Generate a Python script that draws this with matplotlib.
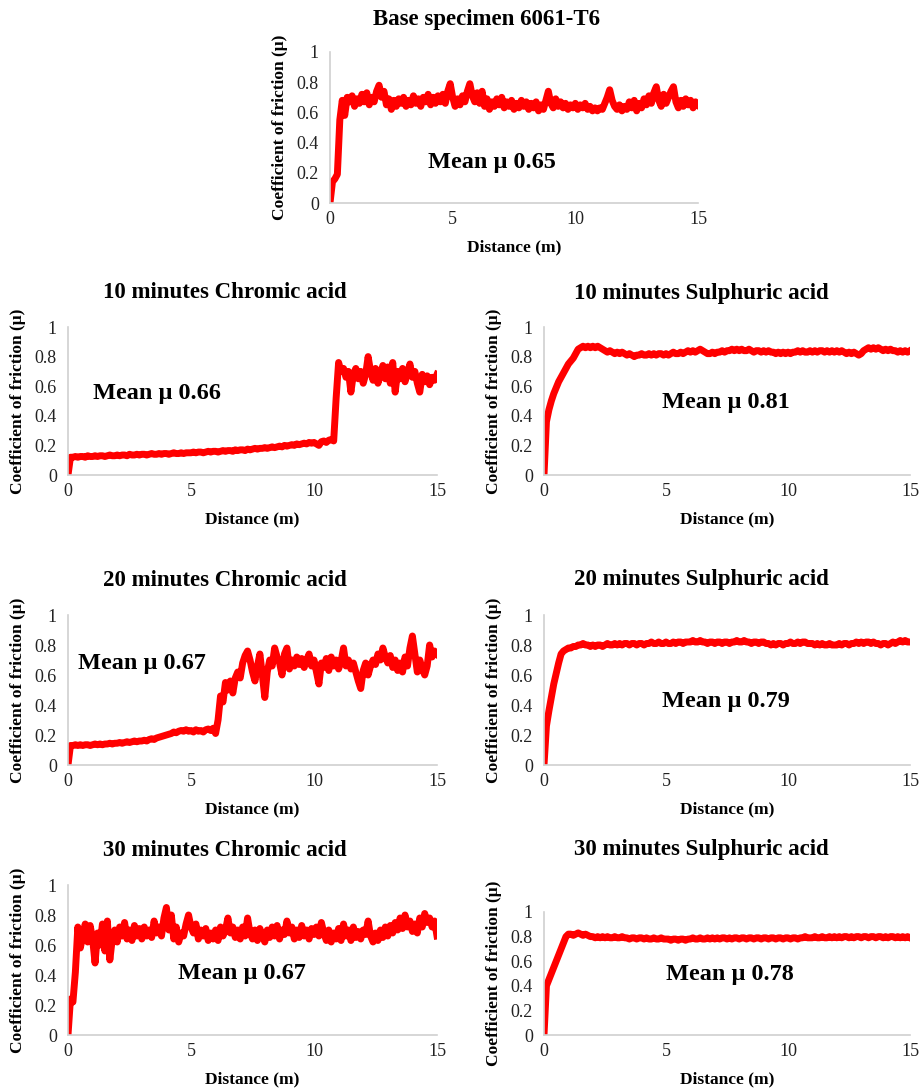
import numpy as np
import matplotlib
matplotlib.use("Agg")
import matplotlib.pyplot as plt

plt.rcParams['font.family'] = ['Liberation Serif', 'DejaVu Serif']

# sampled distance grid (m), every 0.1 m
distance = np.round(np.arange(0, 15.01, 0.1), 1)

base_6061 = [
    0.00, 0.14, 0.16, 0.19, 0.55, 0.68, 0.58, 0.70, 0.67, 0.71,
    0.64, 0.69, 0.66, 0.72, 0.67, 0.73, 0.65, 0.70, 0.67, 0.74,
    0.78, 0.70, 0.74, 0.65, 0.69, 0.62, 0.68, 0.64, 0.69, 0.66,
    0.70, 0.64, 0.68, 0.65, 0.71, 0.66, 0.69, 0.64, 0.70, 0.67,
    0.72, 0.65, 0.70, 0.66, 0.71, 0.67, 0.72, 0.66, 0.74, 0.79,
    0.70, 0.64, 0.69, 0.65, 0.71, 0.67, 0.74, 0.79, 0.71, 0.67,
    0.73, 0.66, 0.74, 0.64, 0.69, 0.62, 0.67, 0.64, 0.69, 0.65,
    0.70, 0.63, 0.67, 0.64, 0.68, 0.62, 0.66, 0.63, 0.68, 0.64,
    0.67, 0.62, 0.66, 0.63, 0.67, 0.61, 0.65, 0.62, 0.68, 0.74,
    0.66, 0.63, 0.69, 0.64, 0.67, 0.63, 0.66, 0.62, 0.65, 0.63,
    0.66, 0.62, 0.65, 0.63, 0.66, 0.62, 0.64, 0.61, 0.63, 0.61,
    0.63, 0.62, 0.66, 0.70, 0.75, 0.68, 0.64, 0.62, 0.65, 0.61,
    0.64, 0.62, 0.67, 0.63, 0.68, 0.61, 0.66, 0.63, 0.69, 0.65,
    0.71, 0.66, 0.73, 0.77, 0.68, 0.64, 0.72, 0.66, 0.70, 0.74,
    0.77, 0.67, 0.63, 0.68, 0.64, 0.69, 0.65, 0.68, 0.63, 0.67,
    0.65,
]

chromic_10 = [
    0.00, 0.12, 0.12, 0.125, 0.12, 0.125, 0.125, 0.12, 0.13, 0.125,
    0.125, 0.13, 0.125, 0.13, 0.13, 0.125, 0.13, 0.135, 0.13, 0.13,
    0.135, 0.13, 0.135, 0.135, 0.13, 0.14, 0.135, 0.135, 0.14, 0.135,
    0.14, 0.14, 0.135, 0.14, 0.145, 0.14, 0.14, 0.145, 0.14, 0.145,
    0.145, 0.14, 0.145, 0.15, 0.145, 0.145, 0.15, 0.145, 0.15, 0.15,
    0.15, 0.155, 0.15, 0.155, 0.155, 0.15, 0.155, 0.16, 0.155, 0.16,
    0.16, 0.155, 0.16, 0.165, 0.16, 0.165, 0.165, 0.16, 0.17, 0.165,
    0.17, 0.17, 0.165, 0.175, 0.17, 0.175, 0.18, 0.175, 0.18, 0.18,
    0.185, 0.18, 0.185, 0.19, 0.185, 0.19, 0.195, 0.19, 0.20, 0.195,
    0.20, 0.205, 0.20, 0.21, 0.205, 0.21, 0.215, 0.21, 0.22, 0.215,
    0.22, 0.21, 0.20, 0.225, 0.23, 0.22, 0.235, 0.24, 0.23, 0.52,
    0.76, 0.70, 0.72, 0.66, 0.70, 0.56, 0.68, 0.72, 0.65, 0.70,
    0.62, 0.68, 0.80, 0.70, 0.64, 0.72, 0.62, 0.68, 0.74, 0.65,
    0.73, 0.62, 0.76, 0.56, 0.70, 0.65, 0.72, 0.63, 0.69, 0.75,
    0.66, 0.70, 0.62, 0.56, 0.68, 0.63, 0.67, 0.61, 0.66, 0.64,
    0.68,
]

sulphuric_10 = [
    0.00, 0.36, 0.44, 0.50, 0.55, 0.59, 0.63, 0.66, 0.69, 0.72,
    0.75, 0.77, 0.79, 0.82, 0.85, 0.86, 0.87, 0.86, 0.87, 0.86,
    0.87, 0.86, 0.87, 0.86, 0.85, 0.84, 0.83, 0.84, 0.83, 0.82,
    0.83, 0.82, 0.83, 0.82, 0.81, 0.82, 0.81, 0.80, 0.81, 0.81,
    0.82, 0.81, 0.81, 0.82, 0.81, 0.82, 0.81, 0.82, 0.82, 0.81,
    0.82, 0.81, 0.82, 0.83, 0.82, 0.82, 0.83, 0.82, 0.83, 0.84,
    0.83, 0.84, 0.83, 0.84, 0.85, 0.84, 0.83, 0.82, 0.82, 0.83,
    0.82, 0.83, 0.83, 0.84, 0.83, 0.84, 0.84, 0.85, 0.84, 0.85,
    0.84, 0.85, 0.84, 0.84, 0.85, 0.84, 0.83, 0.84, 0.84, 0.83,
    0.84, 0.83, 0.84, 0.83, 0.83, 0.82, 0.83, 0.82, 0.83, 0.82,
    0.83, 0.82, 0.83, 0.83, 0.84, 0.83, 0.84, 0.83, 0.83, 0.84,
    0.83, 0.84, 0.83, 0.84, 0.84, 0.83, 0.84, 0.83, 0.84, 0.83,
    0.84, 0.83, 0.84, 0.83, 0.82, 0.83, 0.82, 0.83, 0.82, 0.81,
    0.82, 0.84, 0.85, 0.86, 0.85, 0.86, 0.85, 0.86, 0.85, 0.84,
    0.85, 0.84, 0.85, 0.84, 0.84, 0.83, 0.84, 0.83, 0.84, 0.83,
    0.84,
]

chromic_20 = [
    0.00, 0.13, 0.13, 0.135, 0.13, 0.135, 0.13, 0.135, 0.135, 0.13,
    0.135, 0.14, 0.135, 0.14, 0.135, 0.14, 0.14, 0.145, 0.14, 0.145,
    0.145, 0.15, 0.145, 0.15, 0.155, 0.15, 0.155, 0.16, 0.155, 0.16,
    0.16, 0.165, 0.16, 0.17, 0.175, 0.17, 0.18, 0.185, 0.19, 0.195,
    0.20, 0.205, 0.21, 0.22, 0.215, 0.225, 0.23, 0.225, 0.235, 0.225,
    0.23, 0.22, 0.235, 0.225, 0.23, 0.22, 0.235, 0.24, 0.23, 0.245,
    0.21, 0.30, 0.46, 0.42, 0.55, 0.50, 0.56, 0.48, 0.58, 0.62,
    0.58, 0.68, 0.73, 0.76, 0.70, 0.62, 0.56, 0.66, 0.74, 0.60,
    0.45, 0.62, 0.70, 0.66, 0.78, 0.72, 0.68, 0.60, 0.74, 0.78,
    0.64, 0.70, 0.66, 0.72, 0.67, 0.71, 0.65, 0.70, 0.74, 0.66,
    0.70, 0.62, 0.54, 0.68, 0.65, 0.71, 0.63, 0.72, 0.66, 0.70,
    0.64, 0.69, 0.78, 0.66, 0.70, 0.64, 0.68, 0.62, 0.56, 0.51,
    0.63, 0.68, 0.60, 0.66, 0.70, 0.67, 0.74, 0.70, 0.78, 0.72,
    0.68, 0.73, 0.65, 0.70, 0.63, 0.68, 0.62, 0.72, 0.66, 0.78,
    0.86, 0.74, 0.62, 0.70, 0.64, 0.60, 0.66, 0.80, 0.72, 0.76,
    0.74,
]

sulphuric_20 = [
    0.00, 0.26, 0.36, 0.45, 0.54, 0.61, 0.68, 0.74, 0.76, 0.77,
    0.78, 0.78, 0.79, 0.79, 0.80, 0.80, 0.81, 0.80, 0.80, 0.79,
    0.80, 0.79, 0.80, 0.80, 0.79, 0.80, 0.81, 0.80, 0.80, 0.81,
    0.80, 0.81, 0.80, 0.81, 0.81, 0.80, 0.81, 0.81, 0.80, 0.81,
    0.81, 0.80, 0.81, 0.81, 0.82, 0.81, 0.81, 0.82, 0.81, 0.81,
    0.82, 0.81, 0.81, 0.82, 0.81, 0.82, 0.82, 0.81, 0.82, 0.82,
    0.82, 0.83, 0.82, 0.82, 0.83, 0.82, 0.82, 0.81, 0.82, 0.82,
    0.81, 0.82, 0.82, 0.81, 0.82, 0.82, 0.81, 0.82, 0.82, 0.83,
    0.82, 0.82, 0.83, 0.82, 0.82, 0.81, 0.82, 0.82, 0.81, 0.82,
    0.82, 0.81, 0.81, 0.80, 0.81, 0.80, 0.81, 0.81, 0.80, 0.81,
    0.81, 0.82, 0.81, 0.81, 0.82, 0.81, 0.82, 0.82, 0.81, 0.81,
    0.81, 0.80, 0.81, 0.80, 0.81, 0.80, 0.80, 0.81, 0.80, 0.80,
    0.80, 0.81, 0.80, 0.81, 0.81, 0.80, 0.81, 0.81, 0.82, 0.81,
    0.82, 0.81, 0.82, 0.82, 0.81, 0.82, 0.81, 0.81, 0.80, 0.81,
    0.81, 0.80, 0.81, 0.82, 0.81, 0.82, 0.83, 0.82, 0.83, 0.82,
    0.82,
]

chromic_30 = [
    0.00, 0.24, 0.22, 0.42, 0.72, 0.58, 0.66, 0.74, 0.62, 0.73,
    0.64, 0.48, 0.68, 0.60, 0.74, 0.56, 0.76, 0.50, 0.64, 0.70,
    0.62, 0.72, 0.66, 0.75, 0.64, 0.70, 0.63, 0.73, 0.66, 0.71,
    0.64, 0.72, 0.66, 0.70, 0.65, 0.76, 0.68, 0.72, 0.66, 0.78,
    0.85, 0.70, 0.80, 0.64, 0.72, 0.62, 0.68, 0.66, 0.74, 0.80,
    0.72, 0.68, 0.74, 0.64, 0.70, 0.66, 0.71, 0.63, 0.68, 0.64,
    0.70, 0.63, 0.72, 0.66, 0.70, 0.78, 0.68, 0.72, 0.65, 0.70,
    0.64, 0.72, 0.66, 0.78, 0.68, 0.64, 0.70, 0.63, 0.71, 0.66,
    0.62, 0.70, 0.65, 0.72, 0.66, 0.73, 0.64, 0.70, 0.67, 0.76,
    0.68, 0.72, 0.64, 0.70, 0.65, 0.73, 0.66, 0.70, 0.64, 0.71,
    0.67, 0.72, 0.66, 0.75, 0.68, 0.63, 0.70, 0.62, 0.68, 0.64,
    0.71, 0.63, 0.74, 0.66, 0.70, 0.63, 0.72, 0.65, 0.69, 0.64,
    0.70, 0.67, 0.76, 0.66, 0.62, 0.68, 0.63, 0.70, 0.65, 0.72,
    0.66, 0.73, 0.68, 0.75, 0.70, 0.78, 0.71, 0.80, 0.72, 0.76,
    0.69, 0.74, 0.68, 0.78, 0.72, 0.81, 0.75, 0.78, 0.72, 0.76,
    0.66,
]

sulphuric_30 = [
    0.00, 0.40, 0.45, 0.50, 0.55, 0.60, 0.65, 0.70, 0.75, 0.80,
    0.82, 0.82, 0.81, 0.82, 0.83, 0.82, 0.81, 0.82, 0.81, 0.80,
    0.80, 0.79, 0.80, 0.79, 0.80, 0.79, 0.80, 0.79, 0.79, 0.80,
    0.79, 0.79, 0.80, 0.79, 0.79, 0.78, 0.79, 0.79, 0.78, 0.79,
    0.79, 0.78, 0.79, 0.78, 0.78, 0.79, 0.78, 0.78, 0.79, 0.78,
    0.78, 0.78, 0.77, 0.78, 0.78, 0.77, 0.78, 0.78, 0.77, 0.78,
    0.78, 0.79, 0.78, 0.78, 0.79, 0.78, 0.78, 0.79, 0.78, 0.79,
    0.78, 0.79, 0.78, 0.79, 0.79, 0.78, 0.79, 0.78, 0.79, 0.79,
    0.78, 0.79, 0.79, 0.78, 0.79, 0.79, 0.78, 0.79, 0.79, 0.78,
    0.79, 0.79, 0.78, 0.79, 0.79, 0.78, 0.79, 0.79, 0.78, 0.79,
    0.79, 0.78, 0.79, 0.79, 0.78, 0.79, 0.79, 0.80, 0.79, 0.79,
    0.79, 0.80, 0.79, 0.79, 0.80, 0.79, 0.79, 0.80, 0.79, 0.80,
    0.79, 0.80, 0.79, 0.80, 0.80, 0.79, 0.80, 0.79, 0.80, 0.80,
    0.79, 0.80, 0.80, 0.79, 0.80, 0.80, 0.79, 0.80, 0.80, 0.79,
    0.80, 0.79, 0.80, 0.80, 0.79, 0.80, 0.79, 0.80, 0.79, 0.80,
    0.79,
]

titles = ["Base specimen 6061-T6",
          "10 minutes Chromic acid", "10 minutes Sulphuric acid",
          "20 minutes Chromic acid", "20 minutes Sulphuric acid",
          "30 minutes Chromic acid", "30 minutes Sulphuric acid"]
means = [0.65, 0.66, 0.81, 0.67, 0.79, 0.67, 0.78]
series = [base_6061, chromic_10, sulphuric_10, chromic_20, sulphuric_20,
          chromic_30, sulphuric_30]

W, H = 920, 1088
# axes boxes in pixels: left, top, right, bottom
boxes = [(330, 52, 698, 203),
         (68, 327, 437, 475), (544, 327, 910, 475),
         (68, 615, 437, 765), (544, 615, 910, 765),
         (68, 885, 437, 1035), (544, 912, 910, 1035)]
title_pos = [(487, 19), (225, 293), (701, 293), (225, 580), (701, 580),
             (225, 850), (701, 850)]
mean_pos = [(6.6, 0.27), (3.6, 0.55), (7.46, 0.49), (3.0, 0.68),
            (7.46, 0.42), (7.07, 0.41), (7.6, 0.49)]

fig = plt.figure(figsize=(W / 100, H / 100), dpi=100, facecolor='white')

for i in range(7):
    l, t, r, b = boxes[i]
    ax = fig.add_axes([l / W, 1 - b / H, (r - l) / W, (b - t) / H])
    ax.plot(distance, series[i], color='#ff0000', lw=5.0, solid_joinstyle='round')
    ax.set_xlim(0, 15)
    ax.set_ylim(0, 1)
    ax.set_xticks([0, 5, 10, 15])
    ax.set_yticks([0, 0.2, 0.4, 0.6, 0.8, 1])
    ax.set_yticklabels(["0", "0.2", "0.4", "0.6", "0.8", "1"])
    ax.tick_params(length=0, labelsize=13, colors='#222222')
    ax.tick_params(axis='x', pad=6)
    ax.tick_params(axis='y', pad=8)
    for s in ['top', 'right']:
        ax.spines[s].set_visible(False)
    for s in ['left', 'bottom']:
        ax.spines[s].set_color('#d0d0d0')
        ax.spines[s].set_linewidth(1.2)
    ax.set_xlabel("Distance (m)", fontsize=12.5, fontweight='bold')
    ax.set_ylabel("Coefficient of friction (μ)", fontsize=12.5, fontweight='bold')
    hpx = b - t
    ax.xaxis.set_label_coords(0.5, -36 / hpx)
    ax.yaxis.set_label_coords(-42 / (r - l), 0.5)
    mx, my = mean_pos[i]
    ax.text(mx, my, f"Mean μ {means[i]:.2f}", fontsize=17.5, fontweight='bold',
            ha='center', va='center')
    tx, ty = title_pos[i]
    fig.text(tx / W, 1 - ty / H, titles[i], fontsize=16.5, fontweight='bold',
             ha='center', va='center')

fig.savefig("out.png", dpi=100, facecolor='white')
